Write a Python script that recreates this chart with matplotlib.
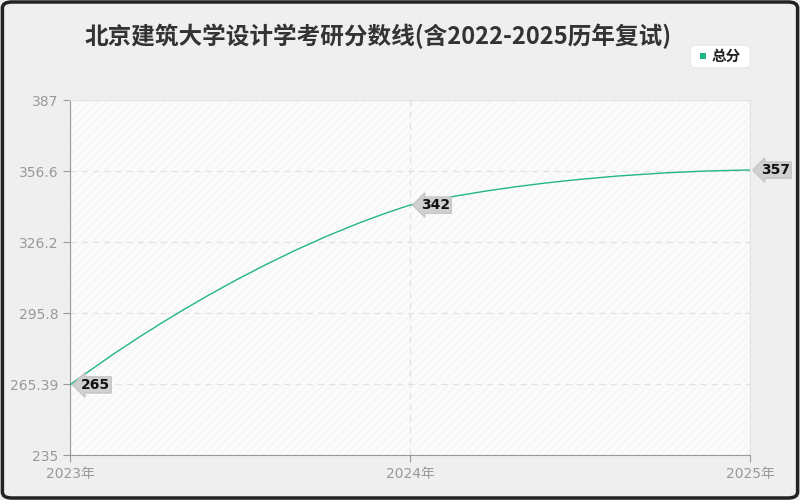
import numpy as np
import matplotlib.pyplot as plt
from matplotlib.path import Path
from matplotlib.patches import PathPatch, FancyBboxPatch, Rectangle

plt.rcParams['font.family'] = ['Noto Sans CJK SC', 'DejaVu Sans']
plt.rcParams['hatch.linewidth'] = 0.5

years = [2023, 2024, 2025]
scores = [265, 342, 357]
yticks = [235, 265.39, 295.8, 326.2, 356.6, 387]
ytick_labels = ['235', '265.39', '295.8', '326.2', '356.6', '387']
xtick_labels = ['2023年', '2024年', '2025年']
title = '北京建筑大学设计学考研分数线(含2022-2025历年复试)'
series_name = '总分'

line_color = '#22b48a'

fig = plt.figure(figsize=(8, 5), dpi=100)
fig.patch.set_facecolor('#efefef')
fig.patches.append(FancyBboxPatch((0.003, 0.004), 0.994, 0.992, boxstyle='round,pad=0,rounding_size=0.012',
                                  transform=fig.transFigure, fill=False, edgecolor='#222222', linewidth=2.5))

ax = fig.add_axes([0.0875, 0.09, 0.85, 0.71])
ax.set_facecolor('#fbfbfb')
ax.set_xlim(2023, 2025)
ax.set_ylim(235, 387)

# faint diagonal hatch
ax.add_patch(Rectangle((0, 0), 1, 1, transform=ax.transAxes, facecolor='none',
                       edgecolor='#f1f1f1', hatch='////', linewidth=0, zorder=0))

ax.set_yticks(yticks)
ax.set_yticklabels(ytick_labels)
ax.set_xticks(years)
ax.set_xticklabels(xtick_labels)
ax.tick_params(colors='#999999', labelsize=10, length=5)
for lab in ax.get_xticklabels() + ax.get_yticklabels():
    lab.set_color('#999999')
    lab.set_family(['DejaVu Sans', 'Noto Sans CJK SC'])
ax.grid(True, color='#e2e2e2', linestyle=(0, (5, 4)), linewidth=0.9)
for s in ['top', 'right']:
    ax.spines[s].set_color('#e4e4e4')
for s in ['left', 'bottom']:
    ax.spines[s].set_color('#999999')

# smooth line (bezier through the data points, monotone clamp)
sx = 340.0  # px per year
sy = 355.0 / 152.0  # px per unit
pts = np.array([[x, y] for x, y in zip(years, scores)], dtype=float)
n = len(pts)
smooth = 0.5
cps = []
for i in range(n):
    if i == 0 or i == n - 1:
        cps.append((pts[i], pts[i]))
        continue
    v = pts[i + 1] - pts[i - 1]
    d0 = np.hypot((pts[i][0] - pts[i - 1][0]) * sx, (pts[i][1] - pts[i - 1][1]) * sy)
    d1 = np.hypot((pts[i + 1][0] - pts[i][0]) * sx, (pts[i + 1][1] - pts[i][1]) * sy)
    tot = d0 + d1
    c0 = pts[i] - v * smooth * d0 / tot
    c1 = pts[i] + v * smooth * d1 / tot
    lo = min(pts[i - 1][1], pts[i + 1][1])
    hi = max(pts[i - 1][1], pts[i + 1][1])
    c0[1] = min(max(c0[1], lo), hi)
    c1[1] = min(max(c1[1], lo), hi)
    cps.append((c0, c1))
verts = [pts[0]]
codes = [Path.MOVETO]
for i in range(n - 1):
    verts += [cps[i][1], cps[i + 1][0], pts[i + 1]]
    codes += [Path.CURVE4] * 3
ax.add_patch(PathPatch(Path(verts, codes), facecolor='none', edgecolor=line_color,
                       linewidth=1.0, zorder=3, clip_on=False))

for x, y in zip(years, scores):
    ax.annotate(str(y), (x, y), xytext=(8, 0), textcoords='offset points',
                ha='left', va='center', fontsize=10, fontweight='bold', color='#111111',
                family=['DejaVu Sans'],
                bbox=dict(boxstyle='larrow,pad=0.08', facecolor='#d0d0d0', edgecolor='#c6c6c6'),
                zorder=5, annotation_clip=False)

fig.text(0.473, 0.928, title, ha='center', va='center', fontsize=17, fontweight='bold', color='#333333')

# legend
fig.patches.append(FancyBboxPatch((0.863, 0.864), 0.075, 0.046, boxstyle='round,pad=0,rounding_size=0.008',
                                  transform=fig.transFigure, facecolor='white', edgecolor='#e8e8e8'))
fig.patches.append(Rectangle((0.8745, 0.882), 0.0075, 0.012, transform=fig.transFigure,
                             facecolor=line_color, edgecolor='none'))
fig.text(0.89, 0.889, series_name, ha='left', va='center', fontsize=10.5, fontweight='bold', color='#222222')

fig.savefig('out.png', dpi=100, facecolor=fig.get_facecolor())
